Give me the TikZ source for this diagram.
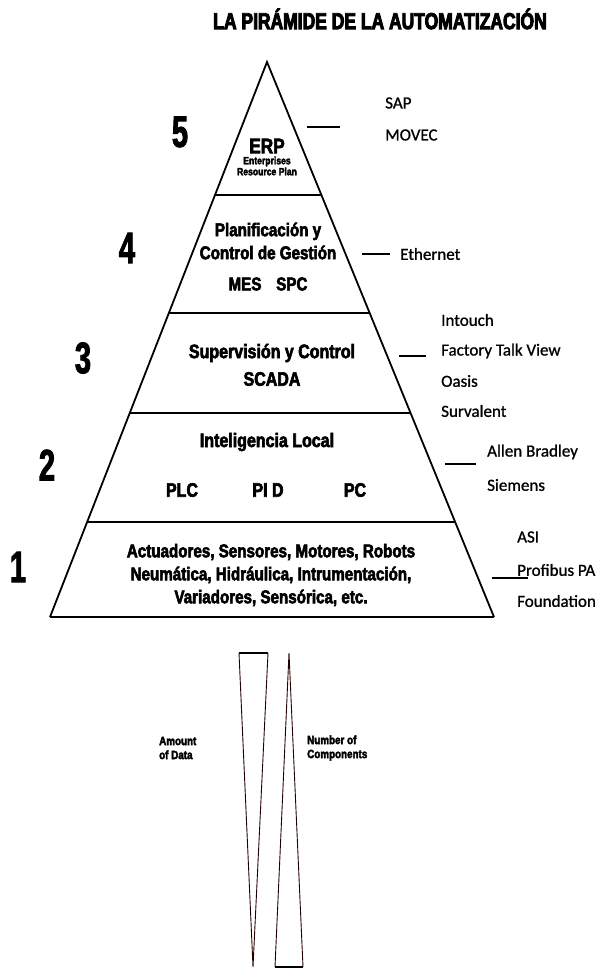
\documentclass[tikz,border=0pt]{standalone}
\usepackage{fontspec}
\setmainfont{Liberation Sans}
\newfontfamily\condfont[FakeStretch=0.82,FakeBold=3]{Liberation Sans Bold}
\newfontfamily\numfont[FakeStretch=0.66,FakeBold=2]{Liberation Sans Bold}
\newfontfamily\titlefont[FakeStretch=0.76,FakeBold=4]{Liberation Sans Bold}
\newfontfamily\labfont[FakeBold=1]{Carlito}
\usetikzlibrary{calc}
\tikzset{
  edge/.style={line width=1.8pt,black},
  lvl/.style={line width=2.6pt,black},
  dashmark/.style={line width=2.6pt,black},
  num/.style={font=\numfont\fontsize{44}{44}\selectfont,inner sep=0pt},
  inner/.style={font=\condfont\fontsize{18.5}{20}\selectfont,inner sep=0pt,align=center},
  small/.style={font=\condfont\fontsize{10.5}{12}\selectfont,inner sep=0pt,align=center},
  lab/.style={font=\labfont\fontsize{17}{20}\selectfont,inner sep=0pt,anchor=west},
  tri/.style={line width=0.9pt,black!85!red},
  tiny/.style={font=\condfont\fontsize{12}{14}\selectfont,inner sep=0pt,align=left,anchor=west},
}
\begin{document}
\begin{tikzpicture}[x=1pt,y=-1pt]
\useasboundingbox (0,0) rectangle (604,969);
% title
\node[font=\titlefont\fontsize{23}{23}\selectfont,inner sep=0pt] (title) at (380,19) {LA PIRÁMIDE DE LA AUTOMATIZACIÓN};
% pyramid
\coordinate (apex) at (267,62);
\coordinate (bl) at (50,617);
\coordinate (br) at (494,617);
\draw[edge] (bl) -- (apex) -- (br);
\foreach \t/\n in {0.2396/a,0.4523/b,0.6324/c,0.8288/d}{
  \coordinate (L\n) at ($(apex)!\t!(bl)$);
  \coordinate (R\n) at ($(apex)!\t!(br)$);
  \draw[lvl] (L\n) -- (R\n);
}
\draw[lvl] (bl) -- (br);
% level numbers
\node[num] (n5) at (180,132) {5};
\node[num] (n4) at (127,248) {4};
\node[num] (n3) at (83,358) {3};
\node[num] (n2) at (47,465) {2};
\node[num] (n1) at (18,567) {1};
% inner texts
\node[inner,font=\condfont\fontsize{21}{21}\selectfont] (erp) at (267,146) {ERP};
\node[small] (ent) at (267,166) {Enterprises\\[-1pt]Resource Plan};
\node[inner] (plan) at (268,241) {Planificación y\\[3pt]Control de Gestión};
\node[inner] (mes) at (268,284) {MES\hspace{0.8em}SPC};
\node[inner,font=\condfont\fontsize{19.5}{20}\selectfont] (sup) at (272,353) {Supervisión y Control};
\node[inner,font=\condfont\fontsize{19.5}{20}\selectfont] (scada) at (272,379) {SCADA};
\node[inner,font=\condfont\fontsize{19.5}{20}\selectfont] (intel) at (267,442) {Inteligencia Local};
\node[inner,font=\condfont\fontsize{19.5}{20}\selectfont] (plc) at (182,490) {PLC};
\node[inner,font=\condfont\fontsize{19.5}{20}\selectfont] (pid) at (268,490) {PI D};
\node[inner,font=\condfont\fontsize{19.5}{20}\selectfont] (pc) at (355,490) {PC};
\node[inner,font=\condfont\fontsize{18.5}{23}\selectfont] (act) at (271,575) {Actuadores, Sensores, Motores, Robots\\Neumática, Hidráulica, Intrumentación,\\Variadores, Sensórica, etc.};
% right labels
\node[lab] (sap) at (385,103) {SAP};
\node[lab] (movec) at (385,135) {MOVEC};
\coordinate (d5a) at (307,127); \coordinate (d5b) at (340,127);
\draw[dashmark] (d5a) -- (d5b);
\node[lab] (eth) at (400,254) {Ethernet};
\coordinate (d4a) at (362,254);
\draw[line width=1.6pt] (d4a) -- ($(eth.west)+(-10,0)$) coordinate (d4b);
\node[lab] (intouch) at (441,320) {Intouch};
\node[lab] (ftv) at (441,351) {Factory Talk View};
\node[lab] (oasis) at (441,381) {Oasis};
\node[lab] (surv) at (441,411) {Survalent};
\coordinate (d3a) at (399,356); \coordinate (d3b) at (426,356);
\draw[dashmark] (d3a) -- (d3b);
\node[lab] (ab) at (487,452) {Allen Bradley};
\node[lab] (sie) at (487,485) {Siemens};
\coordinate (d2a) at (445,464); \coordinate (d2b) at (476,464);
\draw[dashmark] (d2a) -- (d2b);
\node[lab] (asi) at (517,537) {ASI};
\node[lab] (prof) at (517,570) {Profibus PA};
\node[lab] (found) at (517,601) {Foundation};
\coordinate (d1a) at (492,578); \coordinate (d1b) at (528,578);
\draw[dashmark] (d1a) -- (d1b);
% bottom triangles
\coordinate (ta) at (239,653); \coordinate (tb) at (268,653); \coordinate (tc) at (253,967);
\draw[line width=2pt] (ta) -- (tb);
\draw[tri] (ta) -- (tc) -- (tb);
\coordinate (ua) at (289,653); \coordinate (ub) at (275,967); \coordinate (uc) at (303,967);
\draw[tri] (ub) -- (ua) -- (uc);
\draw[line width=1.2pt] (ub) -- (uc);
\node[tiny] (amount) at (159,748) {Amount\\of Data};
\node[tiny] (number) at (307,748) {Number of\\Components};
\end{tikzpicture}
\end{document}
